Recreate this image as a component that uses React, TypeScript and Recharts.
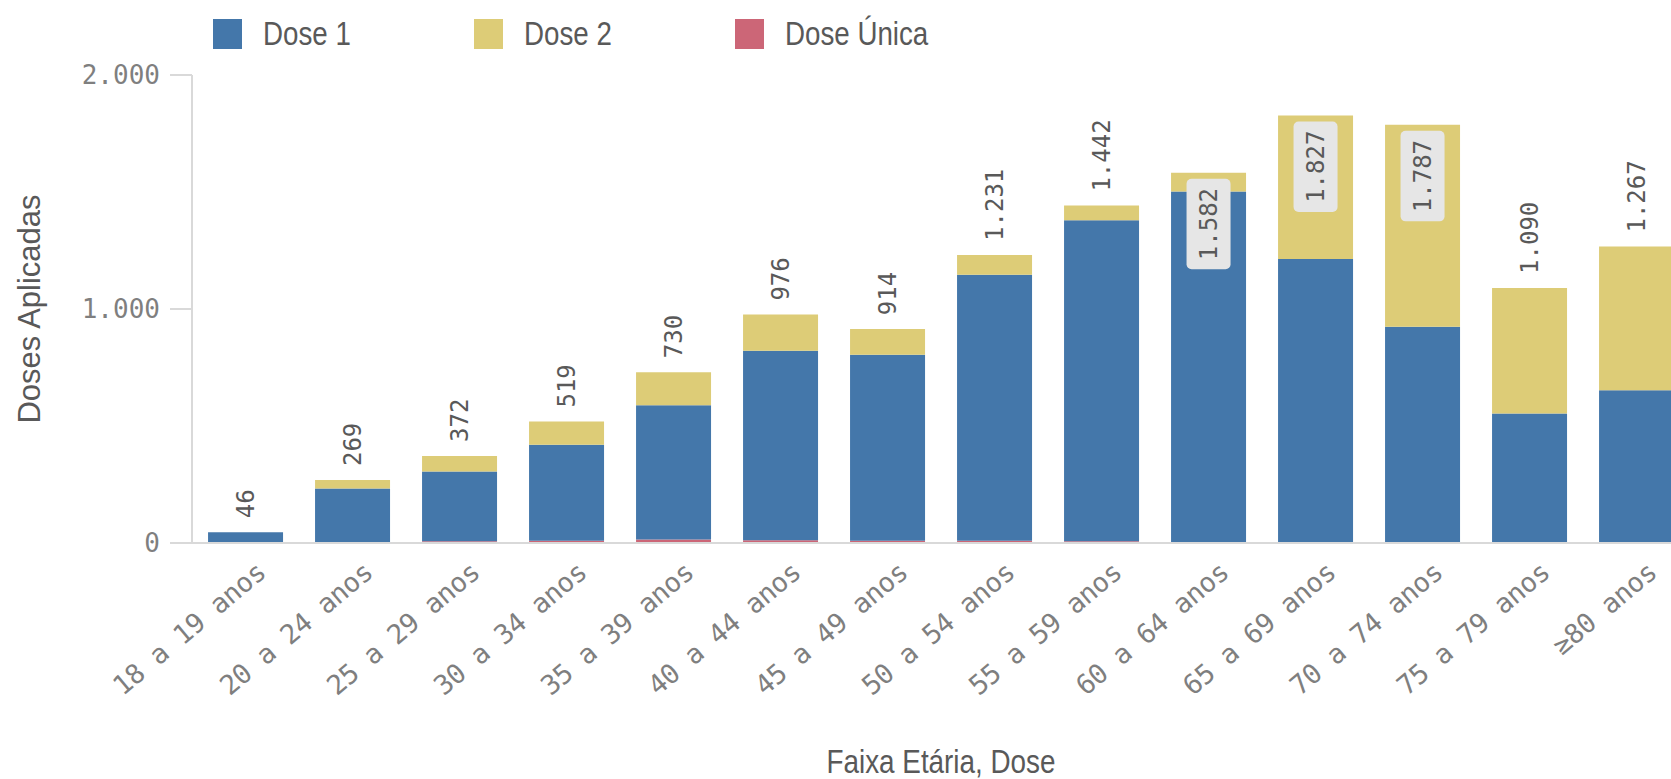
import React from 'react';
import { BarChart, Bar, XAxis, YAxis, LabelList, Legend, Label } from 'recharts';

const categories = [
  '18 a 19 anos', '20 a 24 anos', '25 a 29 anos', '30 a 34 anos', '35 a 39 anos',
  '40 a 44 anos', '45 a 49 anos', '50 a 54 anos', '55 a 59 anos', '60 a 64 anos',
  '65 a 69 anos', '70 a 74 anos', '75 a 79 anos', '≥80 anos',
];
const dose1 = [46, 231, 298, 410, 574, 810, 794, 1136, 1371, 1500, 1214, 924, 553, 653];
const dose2 = [0, 36, 66, 99, 141, 154, 110, 85, 63, 80, 613, 863, 537, 614];
const doseUnica = [0, 2, 8, 10, 15, 12, 10, 10, 8, 2, 0, 0, 0, 0];
const seriesNames = ['Dose 1', 'Dose 2', 'Dose Única'];
const seriesColors = ['#4477aa', '#ddcc77', '#cc6677'];
const yTicks = [0, 1000, 2000];

const data = categories.map((c, i) => ({
  cat: c,
  d1: dose1[i],
  d2: dose2[i],
  u: doseUnica[i],
  total: dose1[i] + dose2[i] + doseUnica[i],
}));

const fmt = (v: number) => String(v).replace(/\B(?=(\d{3})+(?!\d))/g, '.');

const MONO = '"DejaVu Sans Mono", monospace';
const SANS = '"Liberation Sans", Arial, sans-serif';
const TEXT = '#595959';
const TICK = '#7f7f7f';
const AXIS = '#d9d9d9';

const TotalLabel = (props: any) => {
  const { x, y, width, value, index, layer } = props;
  // Dose 2 segments of zero height are skipped by the library, so the Dose 1
  // layer draws the total only where there is no Dose 2 segment on top.
  if (layer === 'd1') {
    const row = data[Number(index)];
    if (!row || row.d2 !== 0) return null;
  }
  const cx = Number(x) + Number(width) / 2;
  const top = Number(y);
  const v = Number(value);
  const text = fmt(v);
  if (v > 1500) {
    const boxW = 44;
    const boxH = text.length * 14.5 + 18;
    const by = top + 6;
    const cy = by + boxH / 2;
    return (
      <g>
        <rect x={cx - boxW / 2} y={by} width={boxW} height={boxH} rx={5} ry={5} fill="#e6e6e6" />
        <text x={cx} y={cy} transform={`rotate(-90 ${cx} ${cy})`} textAnchor="middle"
          dominantBaseline="central" fill={TEXT} fontSize={24} fontFamily={MONO}>{text}</text>
      </g>
    );
  }
  const ly = top - 14;
  return (
    <text x={cx} y={ly} transform={`rotate(-90 ${cx} ${ly})`} textAnchor="start"
      dominantBaseline="central" fill={TEXT} fontSize={24} fontFamily={MONO}>{text}</text>
  );
};

const XTick = (props: any) => {
  const { x, y, payload } = props;
  const px = Number(x) + 22;
  const py = Number(y) + 24;
  return (
    <g transform={`translate(${px},${py}) rotate(-40)`}>
      <text x={0} y={0} textAnchor="end" fill={TICK} fontSize={27} fontFamily={MONO}
        letterSpacing={-0.5}>{payload.value}</text>
    </g>
  );
};

const YTitle = (props: any) => {
  const vb = props.viewBox || {};
  const cy = Number(vb.y) + Number(vb.height) / 2;
  const cx = 29;
  return (
    <text x={cx} y={cy} transform={`rotate(-90 ${cx} ${cy})`} textAnchor="middle" dominantBaseline="central"
      fill={TEXT} fontSize={31} fontFamily={SANS}>Doses Aplicadas</text>
  );
};

const XTitle = (props: any) => {
  const vb = props.viewBox || {};
  const cx = Number(vb.x) + Number(vb.width) / 2;
  const cy = Number(vb.y) + Number(vb.height) - 18;
  return (
    <text x={cx} y={cy} textAnchor="middle" dominantBaseline="central" textLength={229}
      lengthAdjust="spacingAndGlyphs" fill={TEXT} fontSize={33} fontFamily={SANS}>Faixa Etária, Dose</text>
  );
};

const LegendContent = () => (
  <div style={{ position: 'relative', width: 1000, height: 60 }}>
    {seriesNames.map((n, i) => (
      <div key={n} style={{ position: 'absolute', left: 213 + i * 261, top: 19, display: 'flex', alignItems: 'center' }}>
        <div style={{ width: 29, height: 30, background: seriesColors[i] }} />
        <span style={{
          marginLeft: 21, fontFamily: SANS, fontSize: 33, color: TEXT, lineHeight: '30px',
          display: 'inline-block', transform: 'scaleX(0.84)', transformOrigin: 'left center', whiteSpace: 'nowrap',
        }}>{n}</span>
      </div>
    ))}
  </div>
);

export default function App() {
  return (
    <div style={{ position: 'absolute', left: 0, top: 0, width: 1671, height: 779, overflow: 'hidden', background: '#fff' }}>
      <BarChart width={1700} height={779} data={data} margin={{ top: 75, right: 10, bottom: 0, left: 0 }}
        barCategoryGap="15%">
        <Legend layout="horizontal" verticalAlign="middle" align="center" content={<LegendContent />}
          wrapperStyle={{ top: 0, left: 0, width: 1000, height: 60 }} />
        <XAxis dataKey="cat" interval={0} tickLine={false} axisLine={{ stroke: AXIS, strokeWidth: 2 }}
          height={236} tick={<XTick />}>
          <Label content={<XTitle />} />
        </XAxis>
        <YAxis domain={[0, 2000]} ticks={yTicks} tickFormatter={fmt} width={192} tickSize={22} tickMargin={10}
          axisLine={{ stroke: AXIS, strokeWidth: 2 }} tickLine={{ stroke: AXIS, strokeWidth: 2 }}
          tick={{ fill: TICK, fontSize: 26, fontFamily: MONO }}>
          <Label content={<YTitle />} />
        </YAxis>
        <Bar dataKey="u" name={seriesNames[2]} stackId="a" fill={seriesColors[2]} isAnimationActive={false} />
        <Bar dataKey="d1" name={seriesNames[0]} stackId="a" fill={seriesColors[0]} isAnimationActive={false}>
          <LabelList dataKey="total" content={<TotalLabel layer="d1" />} />
        </Bar>
        <Bar dataKey="d2" name={seriesNames[1]} stackId="a" fill={seriesColors[1]} isAnimationActive={false}>
          <LabelList dataKey="total" content={<TotalLabel layer="d2" />} />
        </Bar>
      </BarChart>
    </div>
  );
}
